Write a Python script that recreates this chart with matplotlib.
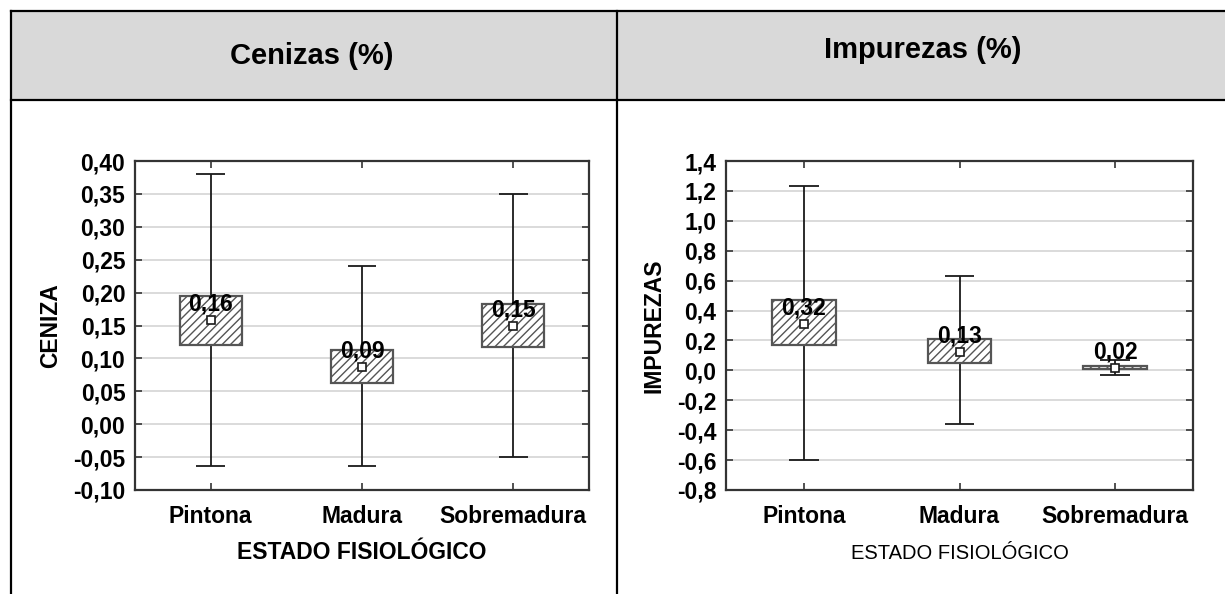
import matplotlib.pyplot as plt
from matplotlib.patches import Rectangle
from matplotlib.lines import Line2D
from matplotlib.ticker import FuncFormatter, MultipleLocator

plt.rcParams['font.family'] = ['Liberation Sans', 'DejaVu Sans']
plt.rcParams['hatch.linewidth'] = 1.0

estados = ['Pintona', 'Madura', 'Sobremadura']

# cenizas (%)
ceniza_media = [0.158, 0.087, 0.149]
ceniza_etiqueta = ['0,16', '0,09', '0,15']
ceniza_caja_inf = [0.120, 0.063, 0.117]
ceniza_caja_sup = [0.195, 0.113, 0.182]
ceniza_bigote_inf = [-0.063, -0.063, -0.050]
ceniza_bigote_sup = [0.380, 0.240, 0.350]

# impurezas (%)
imp_media = [0.31, 0.12, 0.015]
imp_etiqueta = ['0,32', '0,13', '0,02']
imp_caja_inf = [0.17, 0.05, 0.007]
imp_caja_sup = [0.47, 0.21, 0.027]
imp_bigote_inf = [-0.60, -0.36, -0.033]
imp_bigote_sup = [1.23, 0.63, 0.067]

TAM = 16.5


def coma(dec):
    return FuncFormatter(lambda v, p: f"{v:.{dec}f}".replace('.', ','))


def dibujar(ax, media, etiqueta, c_inf, c_sup, b_inf, b_sup):
    x = list(range(len(estados)))
    # bigotes
    ax.vlines(x, b_inf, b_sup, color='#1a1a1a', lw=1.3, zorder=2)
    for xi, lo, hi in zip(x, b_inf, b_sup):
        ax.hlines([lo, hi], xi - 0.095, xi + 0.095, color='#1a1a1a', lw=1.3, zorder=2)
    # cajas
    alto = [s - i for s, i in zip(c_sup, c_inf)]
    ax.bar(x, alto, bottom=c_inf, width=0.41, facecolor='white', edgecolor='#555555',
           hatch='////', lw=1.6, zorder=3)
    ax.plot(x, media, 's', mfc='white', mec='#1a1a1a', ms=6, mew=1.2, zorder=4)
    for xi, m, t in zip(x, media, etiqueta):
        ax.annotate(t, (xi, m), xytext=(0, 3.5), textcoords='offset points', ha='center',
                    va='bottom', fontsize=TAM, fontweight='bold', zorder=5)
    ax.set_xlim(-0.5, 2.5)
    ax.set_xticks(x)
    ax.set_xticklabels(estados, fontweight='bold')
    ax.grid(axis='y', color='#d4d4d4', lw=1.2, zorder=0)
    ax.set_axisbelow(True)
    ax.tick_params(axis='both', direction='in', length=5, top=True, right=True,
                   labelsize=TAM, color='#333333', width=1.2)
    ax.tick_params(axis='y', pad=7)
    ax.tick_params(axis='x', pad=11)
    for s in ax.spines.values():
        s.set_color('#333333')
        s.set_linewidth(1.6)


fig = plt.figure(figsize=(12.25, 5.94), dpi=100)

# marco de la tabla
fig.add_artist(Rectangle((11 / 1225, 1 - 100 / 594), 1 - 11 / 1225, 89 / 594,
                         transform=fig.transFigure, facecolor='#d9d9d9', edgecolor='none'))
for (x0, y0, x1, y1) in [(11, 11, 1225, 11), (11, 100, 1225, 100), (11, 11, 11, 594),
                         (617, 11, 617, 594)]:
    fig.add_artist(Line2D([x0 / 1225, x1 / 1225], [1 - y0 / 594, 1 - y1 / 594],
                          transform=fig.transFigure, color='black', lw=1.6))
fig.text(312 / 1225, 1 - 56 / 594, 'Cenizas (%)', ha='center', va='center',
         fontsize=21, fontweight='bold')
fig.text(923 / 1225, 1 - 50 / 594, 'Impurezas (%)', ha='center', va='center',
         fontsize=21, fontweight='bold')

ax1 = fig.add_axes([135 / 1225, 1 - 490 / 594, 454 / 1225, 329 / 594])
dibujar(ax1, ceniza_media, ceniza_etiqueta, ceniza_caja_inf, ceniza_caja_sup,
        ceniza_bigote_inf, ceniza_bigote_sup)
ax1.set_ylim(-0.10, 0.40)
ax1.yaxis.set_major_locator(MultipleLocator(0.05))
ax1.yaxis.set_major_formatter(coma(2))
ax1.set_ylabel('CENIZA', fontsize=TAM, fontweight='bold', labelpad=8)
ax1.set_xlabel('ESTADO FISIOLÓGICO', fontsize=TAM, fontweight='bold', labelpad=9)

ax2 = fig.add_axes([726 / 1225, 1 - 490 / 594, 467 / 1225, 329 / 594])
dibujar(ax2, imp_media, imp_etiqueta, imp_caja_inf, imp_caja_sup,
        imp_bigote_inf, imp_bigote_sup)
ax2.set_ylim(-0.8, 1.4)
ax2.yaxis.set_major_locator(MultipleLocator(0.2))
ax2.yaxis.set_major_formatter(coma(1))
ax2.set_ylabel('IMPUREZAS', fontsize=TAM, fontweight='bold', labelpad=8)
ax2.set_xlabel('ESTADO FISIOLÓGICO', fontsize=14.5, labelpad=11,
               family=['Liberation Sans Narrow', 'Liberation Sans', 'DejaVu Sans'])

for lab in ax1.get_yticklabels() + ax2.get_yticklabels():
    lab.set_fontweight('bold')

fig.savefig('out.png', dpi=100)
